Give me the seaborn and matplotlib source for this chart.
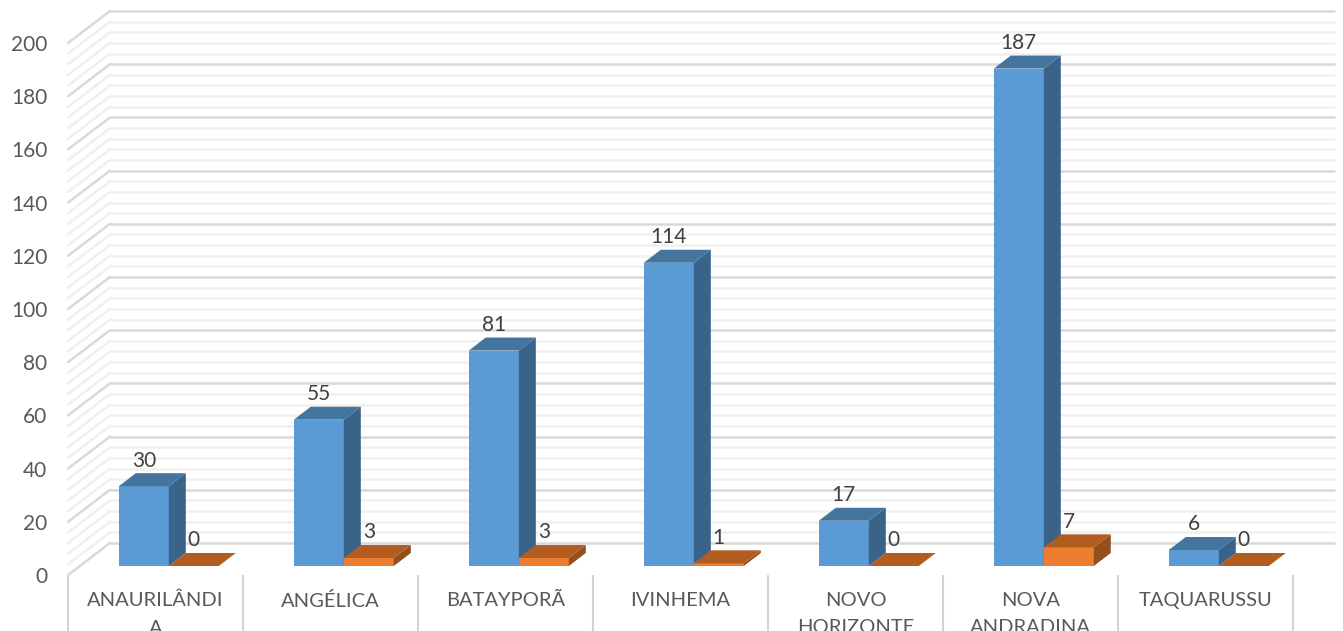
import numpy as np
import pandas as pd
import matplotlib
matplotlib.use('Agg')
import matplotlib.pyplot as plt
from matplotlib.patches import Polygon
from matplotlib.transforms import Affine2D
import seaborn as sns

# Values
municipios = ['ANAURILÂNDI\nA', 'ANGÉLICA', 'BATAYPORÃ', 'IVINHEMA',
              'NOVO\nHORIZONTE', 'NOVA\nANDRADINA', 'TAQUARUSSU']
serie_a = [30, 55, 81, 114, 17, 187, 6]
serie_b = [0, 3, 3, 1, 0, 7, 0]
y_major = list(range(0, 201, 20))
y_minor = list(range(0, 201, 4))

# front, side, top colours of each box
cores_a = ('#5B9BD5', '#396389', '#44759F')
cores_b = ('#ED7D31', '#94501B', '#B35C20')

sns.set_theme(style='white')
plt.rcParams['font.family'] = ['Lato', 'DejaVu Sans']

W, H = 1343, 631
fig = plt.figure(figsize=(W / 100, H / 100), dpi=100)
ax = fig.add_axes([68 / W, (H - 575) / H, 1225 / W, 532 / H])

df = pd.DataFrame({
    'municipio': municipios * 2,
    'n': serie_a + serie_b,
    'serie': ['a'] * 7 + ['b'] * 7,
})
sns.barplot(data=df, x='municipio', y='n', hue='serie', dodge=True, gap=0,
            width=100 / 175, palette=[cores_a[0], cores_b[0]], legend=False,
            saturation=1, linewidth=0, ax=ax, zorder=3)

ax.set_xlim(-0.5, 6.5)
ax.set_ylim(0, 200)
ax.set_xlabel('')
ax.set_ylabel('')
sns.despine(ax=ax, left=True, bottom=True, top=True, right=True)

# wall depth and box depth, in data units
wall_dx, wall_dy = 42 / 175, 32 / 2.66
box_dx, box_dy = 17 / 175, 13 / 2.66

# back wall grid and its diagonals on the left wall
wall_tf = ax.transData + Affine2D().translate(42, 32)
for v in y_minor:
    major = v % 20 == 0
    cor = '#d9d9d9' if major else '#f0f0f0'
    ax.plot([-0.5, 6.5], [v, v], color=cor, lw=1.8, transform=wall_tf,
            clip_on=False, zorder=1, solid_capstyle='butt')
    ax.plot([-0.5, -0.5 + wall_dx], [v, v + wall_dy], color=cor, lw=1.8,
            clip_on=False, zorder=1)

# bars sit on the floor, a bit behind the front plane
# the orange box stands in front of the blue box's side
bar_tf = ax.transData + Affine2D().translate(13.3, 9)
for container, cores, z in zip(ax.containers, (cores_a, cores_b), (3, 4)):
    for bar in container:
        bar.set_transform(bar_tf)
        bar.set_clip_on(False)
        bar.set_zorder(z)
        x0, w, h = bar.get_x(), bar.get_width(), bar.get_height()
        x1 = x0 + w
        side = [(x1, 0), (x1 + box_dx, box_dy), (x1 + box_dx, h + box_dy), (x1, h)]
        top = [(x0, h), (x1, h), (x1 + box_dx, h + box_dy), (x0 + box_dx, h + box_dy)]
        ax.add_patch(Polygon(side, closed=True, fc=cores[1], ec='none',
                             transform=bar_tf, clip_on=False, zorder=z))
        ax.add_patch(Polygon(top, closed=True, fc=cores[2], ec='none',
                             transform=bar_tf, clip_on=False, zorder=z))
        ax.annotate(f'{h:.0f}', xy=(x0 + w / 2, h), xycoords=bar_tf,
                    xytext=(0, 18.5), textcoords='offset points',
                    ha='center', va='center', fontsize=15, color='#404040',
                    zorder=5, annotation_clip=False)

ax.set_yticks(y_major)
ax.set_yticklabels([str(v) for v in y_major], fontsize=15, color='#595959')
ax.tick_params(axis='y', length=0, pad=15)

# separators at the category edges, names centred between them
ax.set_xticks(np.arange(-0.5, 7, 1))
ax.set_xticklabels([''] * 8)
ax.set_xticks(np.arange(7), labels=municipios, minor=True)
ax.tick_params(axis='x', which='major', bottom=True, length=42, width=1.5,
               color='#d4d4d4', direction='out')
ax.tick_params(axis='x', which='minor', bottom=False, length=0, pad=12,
               labelsize=14.5, labelcolor='#595959')
for t in ax.get_xticklabels(minor=True):
    t.set_linespacing(1.75)

fig.savefig('out.png', dpi=100)
